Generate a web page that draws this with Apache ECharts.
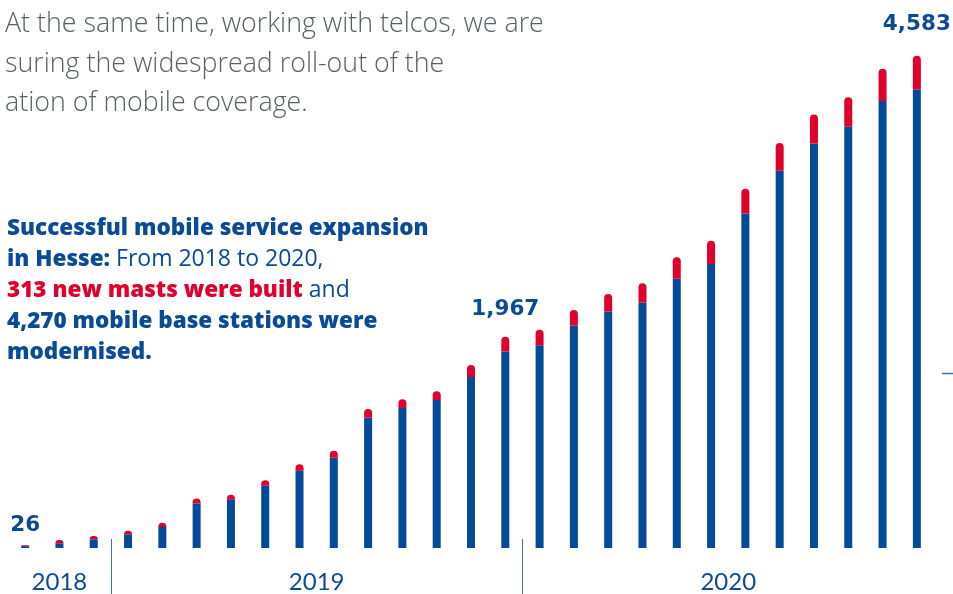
<!DOCTYPE html>
<html><head><meta charset="utf-8">
<script src="https://cdn.jsdelivr.net/npm/echarts@6/dist/echarts.min.js"></script>
<style>html,body{margin:0;padding:0;background:#fff;overflow:hidden}#c{width:953px;height:594px}</style>
</head><body><div id="c"></div>
<script>
const categories = ['2018-10','2018-11','2018-12',
  '2019-01','2019-02','2019-03','2019-04','2019-05','2019-06','2019-07','2019-08','2019-09','2019-10','2019-11','2019-12',
  '2020-01','2020-02','2020-03','2020-04','2020-05','2020-06','2020-07','2020-08','2020-09','2020-10','2020-11','2020-12'];
const modernised = [18,44,81,128,196,416,450,580,720,841,1214,1304,1379,1593,1829,1888,2071,2201,2285,2506,2645,3114,3512,3766,3922,4161,4270];
const newMasts = [8,31,31,33,40,45,45,51,60,65,81,81,81,112,138,143,146,165,181,202,215,230,258,270,276,301,313];
const labelIndices = [0,14,26];
const yearLabels = ['2018','2019','2020'];
const yearFirst = [0,3,15];
const yearLast = [2,14,26];

const BLUE = '#034a98', RED = '#e0002b', TXT = '#0b4a96', GRAY = '#5b6067';
const labelDist = {0:9, 14:16, 26:20};
const fmt = n => n.toLocaleString('en-US');

const chart = echarts.init(document.getElementById('c'), null, {renderer:'canvas'});
chart.setOption({
  animation:false,
  grid:{left:8,right:19,top:11,bottom:46},
  xAxis:{type:'category',data:categories,axisLine:{show:false},axisTick:{show:false},axisLabel:{show:false}},
  yAxis:{type:'value',min:0,max:5000,show:false,splitLine:{show:false}},
  series:[
    {name:'Modernised base stations',type:'bar',stack:'t',barWidth:8,data:modernised,itemStyle:{color:BLUE}},
    {name:'New masts',type:'bar',stack:'t',barWidth:8,
      data:newMasts.map((v,i)=>({value:v,label:{show:labelIndices.includes(i),distance:labelDist[i]||10}})),
      itemStyle:{color:RED,borderRadius:[4,4,0,0]},
      label:{position:'top',color:TXT,fontFamily:'DejaVu Sans',fontWeight:'bold',fontSize:21.5,
        formatter:p=>fmt(modernised[p.dataIndex]+newMasts[p.dataIndex])}}
  ]
});

const px = i => chart.convertToPixel({xAxisIndex:0}, categories[i]);
const base = chart.convertToPixel({yAxisIndex:0}, 0);
const g = [];
[3,15].forEach(i=>{
  const x = Math.round((px(i-1)+px(i))/2)+0.5;
  g.push({type:'line',shape:{x1:x,y1:base-9,x2:x,y2:594},style:{stroke:'#4b70b0',lineWidth:1}});
});
yearLabels.forEach((t,k)=>{
  g.push({type:'text',x:(px(yearFirst[k])+px(yearLast[k]))/2,y:base+34,
    style:{text:t,fill:TXT,font:'400 24px Lato',textAlign:'center',textVerticalAlign:'middle'}});
});
g.push({type:'text',x:5,y:5,style:{
  text:'At the same time, working with telcos, we are\nsuring the widespread roll-out of the\nation of mobile coverage.',
  fill:GRAY,font:'300 26.8px "Open Sans"',lineHeight:39.5,textVerticalAlign:'top'}});
g.push({type:'text',x:7,y:213,style:{
  text:'{b|Successful mobile service expansion}\n{b|in Hesse:}{n| From 2018 to 2020,}\n{r|313 new masts were built}{n| and}\n{b|4,270 mobile base stations were}\n{b|modernised.}',
  textVerticalAlign:'top',
  rich:{
    b:{fill:TXT,fontFamily:'Open Sans',fontWeight:800,fontSize:22.5,lineHeight:31},
    n:{fill:TXT,fontFamily:'Open Sans',fontWeight:400,fontSize:23,lineHeight:31},
    r:{fill:RED,fontFamily:'Open Sans',fontWeight:800,fontSize:22.5,lineHeight:31}
  }}});
g.push({type:'line',shape:{x1:942,y1:373.5,x2:953,y2:373.5},style:{stroke:'#4b70b0',lineWidth:1.5}});
chart.setOption({graphic:g});
</script></body></html>
